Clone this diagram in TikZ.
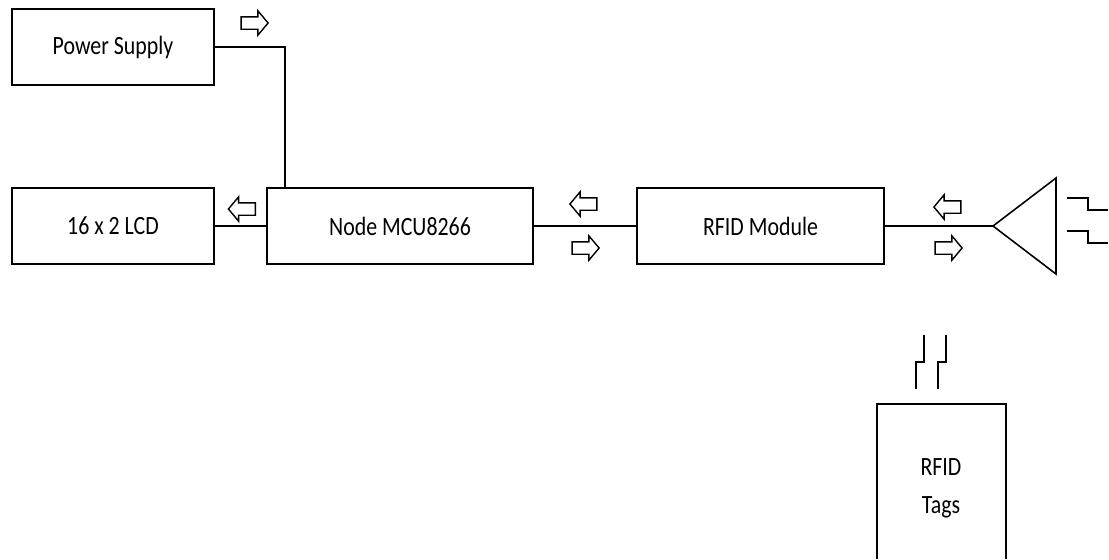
\documentclass[tikz,border=0pt]{standalone}
\usepackage{fontspec}
\setmainfont[FakeStretch=0.83]{Carlito}
\usetikzlibrary{shapes.arrows}
\tikzset{
    block/.style={draw, line width=1.1pt, minimum height=1.52cm, font=\fontsize{15}{20}\selectfont},
    flow/.style={draw, line width=0.8pt, shape=single arrow, minimum height=0.54cm, inner sep=0.11cm, single arrow head extend=0.12cm, single arrow tip angle=100},
    wire/.style={line width=0.9pt}
}
\begin{document}
\begin{tikzpicture}[x=0.02cm,y=-0.02cm]
    \useasboundingbox (0,0) rectangle (1109,559);

    % Blocks
    \node[block, minimum width=4.04cm] (power) at (113,47) {Power Supply};
    \node[block, minimum width=4.04cm] (lcd) at (113,226) {16 x 2 LCD};
    \node[block, minimum width=5.32cm] (mcu) at (400,226) {Node MCU8266};
    \node[block, minimum width=4.94cm] (rfid) at (760.5,226) {RFID Module};

    % Antenna
    \coordinate (apex) at (993,226);
    \coordinate (top) at (1056,178);
    \coordinate (bottom) at (1056,274);
    \draw[wire, line join=miter] (apex) -- (top) -- (bottom) -- cycle;

    % Tags box runs off the bottom of the page
    \coordinate (tagsbl) at (877,559);
    \coordinate (tagstl) at (877,404);
    \coordinate (tagstr) at (1006,404);
    \coordinate (tagsbr) at (1006,559);
    \draw[line width=1.1pt] (tagsbl) -- (tagstl) -- (tagstr) -- (tagsbr);
    \node[align=center, font=\fontsize{15}{21.5}\selectfont] (tags) at (941,488) {RFID\\Tags};

    % Connections
    \coordinate (drop) at (285,188);
    \draw[wire] (power.east) -| (drop);
    \draw[wire] (lcd.east) -- (mcu.west);
    \draw[wire] (mcu.east) -- (rfid.west);
    \draw[wire] (rfid.east) -- (apex);

    % Flow arrows
    \node[flow] (powerflow) at (252,23) {};
    \node[flow, shape border rotate=180] (lcdflow) at (244.5,209) {};
    \node[flow, shape border rotate=180] (mcuin) at (586,204) {};
    \node[flow] (mcuout) at (583,248) {};
    \node[flow, shape border rotate=180] (rfidin) at (950,207) {};
    \node[flow] (rfidout) at (946,248) {};

    % Pulses at the antenna
    \draw[wire] (1067,198) -- (1088,198) -- (1088,210) -- (1108,210);
    \draw[wire] (1067,231) -- (1088,231) -- (1088,243) -- (1108,243);

    % Pulses above the tags
    \draw[wire] (924,335) -- (924,362) -- (916,362) -- (916,389);
    \draw[wire] (946,335) -- (946,362) -- (938,362) -- (938,389);
\end{tikzpicture}
\end{document}
